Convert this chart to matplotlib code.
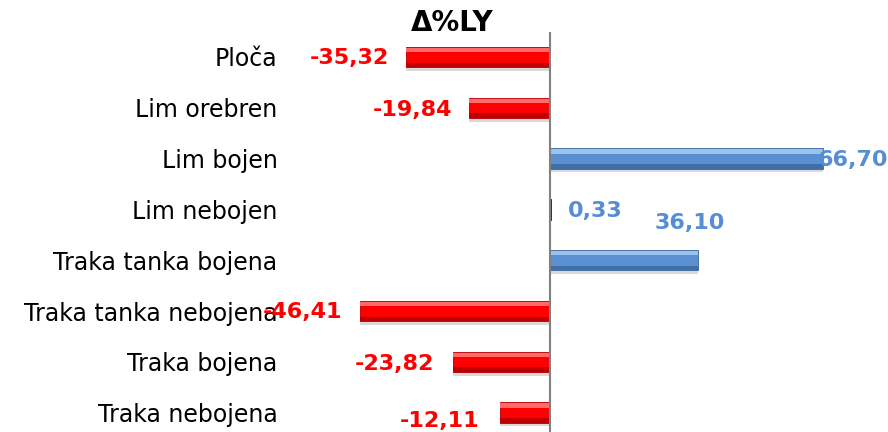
import matplotlib
matplotlib.use("Agg")
import matplotlib.pyplot as plt
import matplotlib.transforms as mtransforms

categories = ["Ploča", "Lim orebren", "Lim bojen", "Lim nebojen",
              "Traka tanka bojena", "Traka tanka nebojena", "Traka bojena", "Traka nebojena"]
values = [-35.32, -19.84, 66.70, 0.33, 36.10, -46.41, -23.82, -12.11]
value_labels = ["-35,32", "-19,84", "66,70", "0,33", "36,10", "-46,41", "-23,82", "-12,11"]
title = "Δ%LY"

# label layout (pixels): dx, dy(down positive), ha
label_layout = [(-17, 1, "right"), (-17, 2, "right"), (-5, 1, "left"), (17, 2, "left"),
                (-8, -37, "center"), (-18, 1, "right"), (-18, 2, "right"), (-21, 8, "right")]

W, H = 888, 432
fig = plt.figure(figsize=(W / 100, H / 100), dpi=100)
ax = fig.add_axes([290 / W, 0, 598 / W, 400 / H])
px_per_unit = 4.09
ax.set_xlim((290 - 550) / px_per_unit, (888 - 550) / px_per_unit)
row_px = 50.8
ax.set_ylim((432 - 57) / row_px, (32 - 57) / row_px)

red, red_dark, red_light = "#FF0000", "#B00000", "#FF6A6A"
blue, blue_dark, blue_light = "#5A8FD0", "#3A679E", "#9CC3EE"
blue_text = "#558ED5"

ys = list(range(len(values)))
h = 0.40
cols = []
for v in values:
    if v < 0 or abs(v) < 1:
        cols.append((red, red_dark, red_light))
    else:
        cols.append((blue, blue_dark, blue_light))
cols[3] = ("#A00000", "#700000", "#C04040")

# shadow
ax.barh([y + 0.07 for y in ys], values, height=h, color="#000000", alpha=0.15, zorder=1)
# main bar
ax.barh(ys, values, height=h, color=[c[0] for c in cols], zorder=2,
        edgecolor=[c[1] for c in cols], linewidth=0.6)
# highlight top
ax.barh([y - h / 2 + 0.06 for y in ys], values, height=0.08,
        color=[c[2] for c in cols], zorder=3, linewidth=0)
# dark bottom
ax.barh([y + h / 2 - 0.045 for y in ys], values, height=0.09,
        color=[c[1] for c in cols], zorder=3, linewidth=0, alpha=0.8)

ax.axvline(0, color="#808080", lw=1.5, zorder=4)

ax.set_yticks(ys)
ax.set_yticklabels(categories, fontsize=17, color="#000000")
ax.tick_params(axis="y", length=0, pad=9)
ax.set_xticks([])
for s in ax.spines.values():
    s.set_visible(False)

for i, (v, lab) in enumerate(zip(values, value_labels)):
    dx, dy, ha = label_layout[i]
    tr = mtransforms.offset_copy(ax.transData, fig=fig, x=dx * 0.72, y=-dy * 0.72, units="points")
    color = red if v < 0 else blue_text
    ax.text(v, i, lab, transform=tr, ha=ha, va="center", fontsize=16,
            fontweight="bold", color=color, zorder=5, clip_on=False)

fig.text(452 / W, 1 - 23 / H, title, ha="center", va="center", fontsize=20, fontweight="bold")

fig.savefig("out.png", dpi=100)
